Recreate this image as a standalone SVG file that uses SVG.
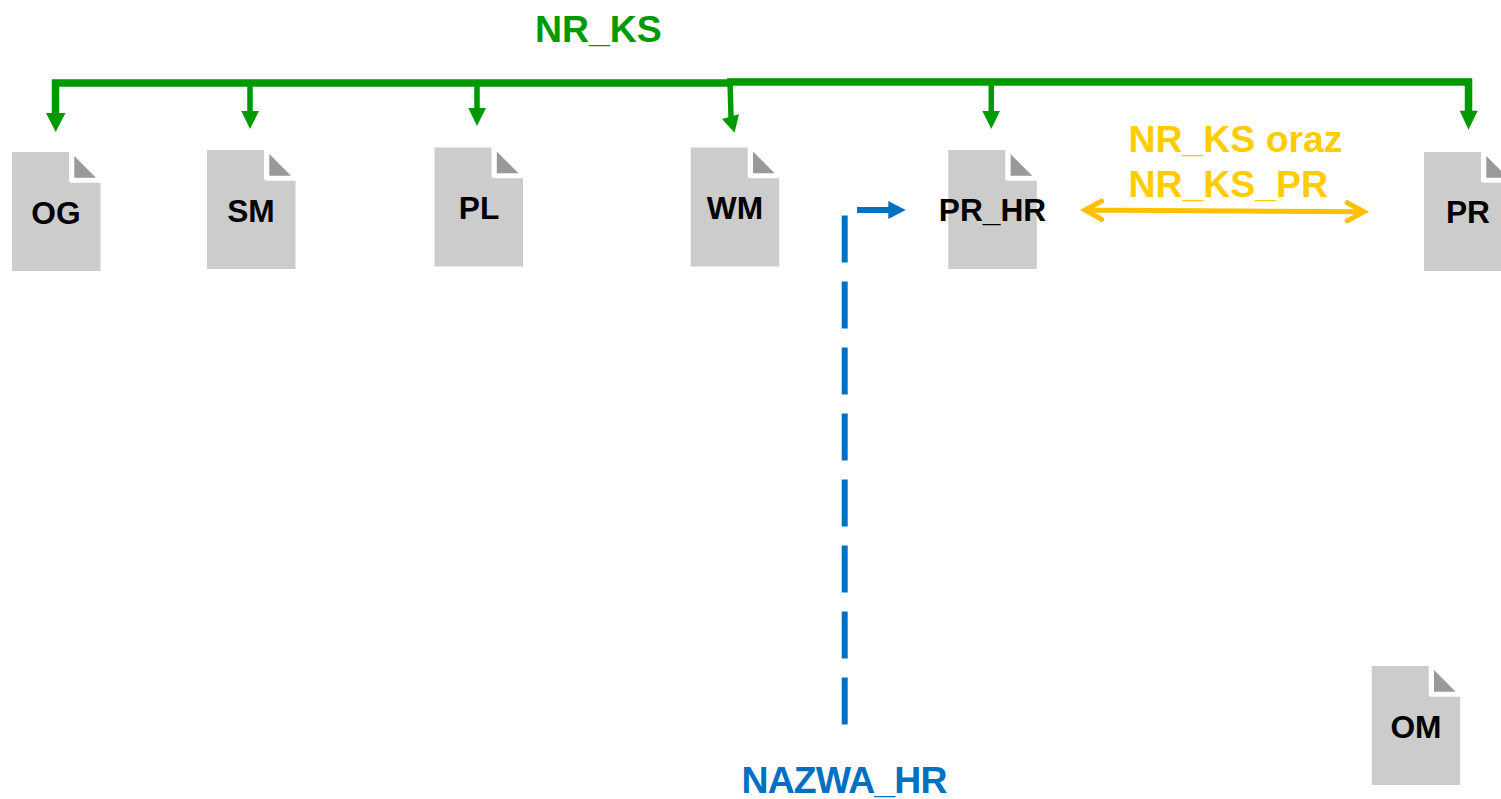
<svg xmlns="http://www.w3.org/2000/svg" width="1501" height="799" viewBox="0 0 1501 799">
<style>
text{font-family:"Liberation Sans",Arial,sans-serif;font-weight:700}
.n{font-size:31.700px;fill:#000;text-anchor:middle}
.l{font-size:37.400px}
.g{fill:none;stroke:#009900;stroke-width:7.500}
.s{fill:none;stroke:#009900;stroke-width:5.500}
.h{fill:#009900}
.b{fill:none;stroke:#0070C0;stroke-width:6}
</style>
<defs>
<g id="doc">
<path fill="#CCCCCC" d="M0 0H57V28Q57 30.700 59.700 30.700H88.500V119H0Z"/>
<path fill="#999999" d="M62.300 4L84 25.700H62.300Z"/>
</g>
</defs>
<rect width="1501" height="799" fill="#fff"/>
<g id="node-og"><use href="#doc" x="12" y="152"/><text class="n" x="56" y="224">OG</text></g>
<g id="node-sm"><use href="#doc" x="207" y="150"/><text class="n" x="251" y="222">SM</text></g>
<g id="node-pl"><use href="#doc" x="434.500" y="147.500"/><text class="n" x="479" y="219">PL</text></g>
<g id="node-wm"><use href="#doc" x="690.700" y="147.500"/><text class="n" x="735" y="219">WM</text></g>
<g id="node-pr-hr"><use href="#doc" x="948.300" y="150"/><text class="n" x="992.500" y="221">PR_HR</text></g>
<g id="node-pr"><use href="#doc" x="1424" y="152"/><text class="n" x="1468" y="223">PR</text></g>
<g id="node-om"><use href="#doc" x="1371.700" y="666"/><text class="n" x="1416" y="738">OM</text></g>
<g id="connectors">
<path class="g" d="M55.500 114V83H728"/>
<path class="h" d="M46 113H65.500L55.700 132Z"/>
<path class="s" d="M250 83V112"/>
<path class="h" d="M241.300 111H259L250 129Z"/>
<path class="s" d="M477 83V109"/>
<path class="h" d="M468.300 108H486L477 126Z"/>
<path class="s" d="M730 80L731 117"/>
<path class="h" d="M722 119L739 114.300L734.500 132.700Z"/>
<path class="g" d="M727 82H1468.500V111"/>
<path class="s" d="M991.300 84V112"/>
<path class="h" d="M982.300 111H1000L991.300 129Z"/>
<path class="h" d="M1459.700 110.700H1477.700L1468.500 129.700Z"/>
<path class="b" d="M844.700 215.500V725" stroke-dasharray="47 19"/>
<path class="b" d="M857 210H889"/>
<path fill="#0070C0" d="M888.300 201L905.700 210L888.300 219Z"/>
<path fill="none" stroke="#FFC000" stroke-width="5" stroke-linecap="round" d="M1086 210L1362 211.700M1101.700 201L1085 210L1101.700 219.500M1347.300 202.700L1364 211.700L1347.300 220.700"/>
</g>
<g id="labels">
<text class="l" x="535" y="42" fill="#009900">NR_KS</text>
<text class="l" x="1128.500" y="152" fill="#FFCC00">NR_KS oraz</text>
<text class="l" x="1128.500" y="197" fill="#FFCC00">NR_KS_PR</text>
<text class="l" x="741.500" y="793" fill="#0070C0" textLength="206" lengthAdjust="spacing">NAZWA_HR</text>
</g>
</svg>
